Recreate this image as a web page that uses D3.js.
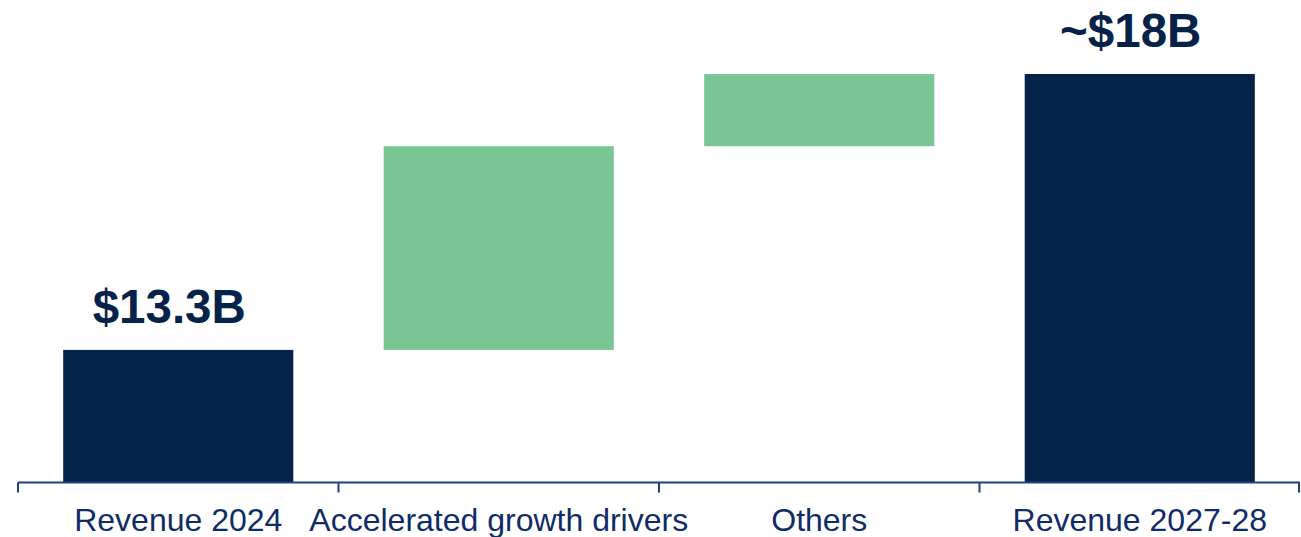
<!DOCTYPE html>
<html>
<head>
<meta charset="utf-8">
<script src="https://cdn.jsdelivr.net/npm/d3@7"></script>
<style>
  html, body { margin: 0; padding: 0; background: #ffffff; }
  svg { display: block; }
</style>
</head>
<body>
<svg id="chart" width="1301" height="537"></svg>
<script>
// ---- data ----
const categories = ["Revenue 2024", "Accelerated growth drivers", "Others", "Revenue 2027-28"];
const values = [13.3, 3.47, 1.23, 18];          // totals and increments ($B)
const kinds = ["total", "increase", "increase", "total"];
const valueLabels = ["$13.3B", "", "", "~$18B"];
const axisMin = 11.05;                            // value at the axis line
const axisMax = 18;

// ---- styles ----
const navy = "#052249";
const green = "#79C694";
const axisColor = "#22407e";
const labelColor = "#0f2c68";

const svg = d3.select("#chart");

const x = d3.scaleBand().domain(categories).range([18, 1300]).padding(0);
const y = d3.scaleLinear().domain([axisMin, axisMax]).range([482, 74]);

// compute waterfall segments
let running = 0;
const segs = categories.map((c, i) => {
  let lo, hi;
  if (kinds[i] === "total") { lo = axisMin; hi = values[i]; running = values[i]; }
  else { lo = running; hi = running + values[i]; running = hi; }
  return { cat: c, lo, hi, kind: kinds[i], label: valueLabels[i] };
});

const barFrac = 0.718;
const bw = x.bandwidth() * barFrac;
const off = (x.bandwidth() - bw) / 2;

svg.selectAll("rect.bar").data(segs).enter().append("rect")
  .attr("class", "bar")
  .attr("x", d => x(d.cat) + off)
  .attr("width", bw)
  .attr("y", d => y(d.hi))
  .attr("height", d => y(d.lo) - y(d.hi))
  .attr("fill", d => d.kind === "total" ? navy : green);

// value labels
svg.selectAll("text.val").data(segs.filter(d => d.label)).enter().append("text")
  .attr("class", "val")
  .attr("x", d => x(d.cat) + x.bandwidth() / 2 - 9)
  .attr("y", d => y(d.hi) - 27)
  .attr("text-anchor", "middle")
  .attr("font-family", "'Liberation Sans', Arial, sans-serif")
  .attr("font-weight", "bold")
  .attr("font-size", 47.5)
  .attr("fill", navy)
  .text(d => d.label);

// axis
const axis = d3.axisBottom(x).tickSize(0).tickPadding(0);
const gAxis = svg.append("g").attr("transform", "translate(0,482.5)").call(axis);
gAxis.select(".domain").attr("stroke", axisColor).attr("stroke-width", 2).attr("d", "M18,0H1300");
gAxis.selectAll(".tick text")
  .attr("y", 48.5)
  .attr("dy", 0)
  .attr("font-family", "'Liberation Sans', Arial, sans-serif")
  .attr("font-size", 32)
  .attr("fill", labelColor);

// boundary ticks
const bounds = categories.map(c => x(c)).concat([x.range()[1]]);
gAxis.selectAll("line.bound").data(bounds).enter().append("line")
  .attr("class", "bound")
  .attr("x1", d => Math.min(d, 1299)).attr("x2", d => Math.min(d, 1299))
  .attr("y1", 0).attr("y2", 10)
  .attr("stroke", axisColor).attr("stroke-width", 2);
</script>
</body>
</html>
